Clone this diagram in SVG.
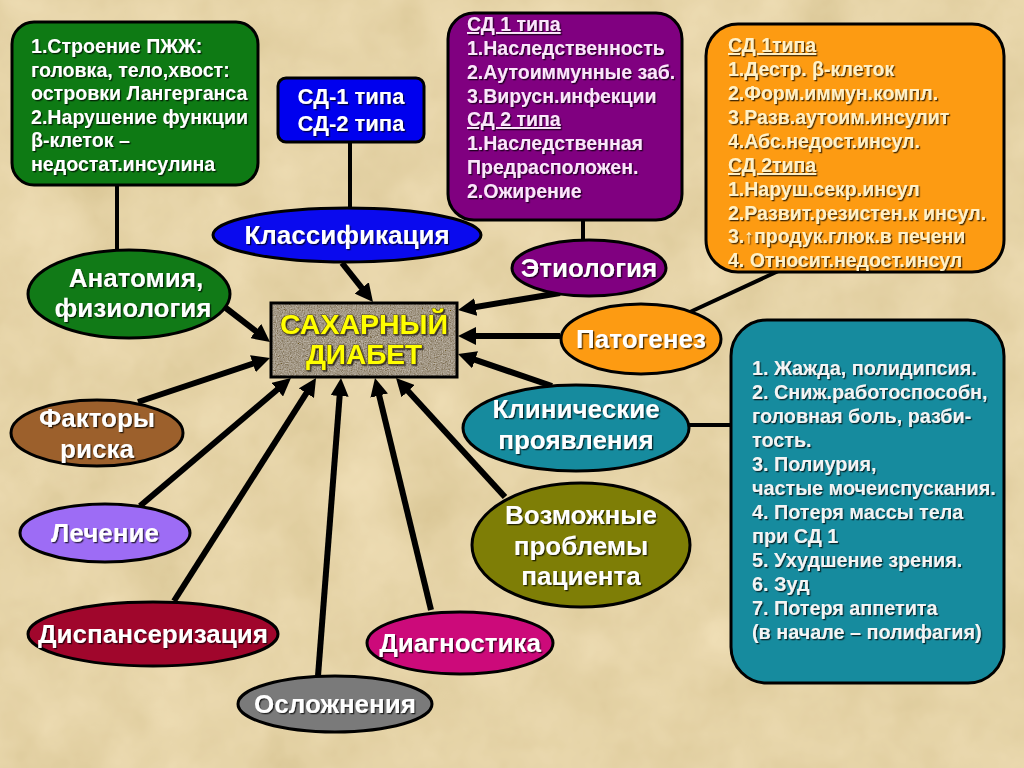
<svg xmlns="http://www.w3.org/2000/svg" width="1024" height="768" viewBox="0 0 1024 768">
<defs>
<filter id="parch" x="0" y="0" width="100%" height="100%">
<feTurbulence type="fractalNoise" baseFrequency="0.015" numOctaves="4" seed="7" result="n"/>
<feColorMatrix in="n" type="matrix" values="0.33 0.33 0.33 0 0 0.33 0.33 0.33 0 0 0.33 0.33 0.33 0 0 0 0 0 0 1" result="g"/>
<feComposite in="g" in2="SourceGraphic" operator="arithmetic" k1="0" k2="0.3" k3="1" k4="-0.15"/>
</filter>
<filter id="granite" x="0" y="0" width="100%" height="100%">
<feTurbulence type="fractalNoise" baseFrequency="0.85" numOctaves="3" seed="3" result="n"/>
<feColorMatrix in="n" type="matrix" values="0.33 0.33 0.33 0 0 0.33 0.33 0.33 0 0 0.33 0.33 0.33 0 0 0 0 0 0 1" result="g"/>
<feComposite in="g" in2="SourceGraphic" operator="arithmetic" k1="0" k2="0.9" k3="1" k4="-0.45" result="c"/>
<feComposite in="c" in2="SourceGraphic" operator="in"/>
</filter>
<filter id="sh" x="-10%" y="-20%" width="120%" height="140%">
<feDropShadow dx="1.3" dy="1.3" stdDeviation="0.6" flood-color="#000" flood-opacity="0.7"/>
</filter>
<marker id="ah" markerUnits="userSpaceOnUse" markerWidth="18" markerHeight="18" refX="6" refY="9" orient="auto">
<path d="M0,0 L18,9 L0,18 Z" fill="#000"/>
</marker>
<style>
.f{font-family:"Liberation Sans",Arial,sans-serif;font-weight:bold}
.lbl{font-size:26px;fill:#fff;text-anchor:middle}
.nd{stroke:#000;stroke-width:3}
.ar{stroke:#000;stroke-width:6;marker-end:url(#ah)}
.ln{stroke:#000;stroke-width:4;fill:none}
.u{text-decoration:underline}
</style>
</defs>
<rect x="0" y="0" width="1024" height="768" fill="#e6d4a8" filter="url(#parch)"/>

<g id="connectors">
<line class="ln" x1="117" y1="186" x2="117" y2="252"/>
<line class="ln" x1="350" y1="141" x2="350" y2="210"/>
<line class="ln" x1="583" y1="218" x2="583" y2="243"/>
<line class="ln" x1="785" y1="268" x2="690" y2="312"/>
<line class="ln" x1="688" y1="425" x2="733" y2="425"/>
<line class="ar" x1="342" y1="263" x2="365.5" y2="292.6"/>
<line class="ar" x1="222" y1="305" x2="260.5" y2="334.7"/>
<line class="ar" x1="138" y1="402" x2="258.6" y2="361.8"/>
<line class="ar" x1="560" y1="293" x2="469.8" y2="308"/>
<line class="ar" x1="560" y1="336" x2="470" y2="336"/>
<line class="ar" x1="552" y1="386" x2="469.4" y2="357.9"/>
<line class="ar" x1="140" y1="506" x2="281.8" y2="385.8"/>
<line class="ar" x1="174" y1="601" x2="309.6" y2="388.1"/>
<line class="ar" x1="318" y1="676" x2="340.1" y2="390"/>
<line class="ar" x1="431" y1="610" x2="377.8" y2="389.7"/>
<line class="ar" x1="505" y1="497" x2="404.1" y2="386.8"/>
</g>

<g id="center">
<rect x="271" y="303" width="186" height="74" fill="#a39886" filter="url(#granite)"/>
<rect x="271" y="303" width="186" height="74" fill="none" stroke="#000" stroke-width="3"/>
<g class="f" font-size="28" fill="#ffff00" text-anchor="middle" stroke="#5a4a20" stroke-width="1.2" paint-order="stroke" filter="url(#sh)">
<text x="364" y="334" textLength="168" lengthAdjust="spacingAndGlyphs">САХАРНЫЙ</text>
<text x="364" y="364">ДИАБЕТ</text>
</g>
</g>

<g id="anatomy-box">
<rect class="nd" x="12" y="22" width="246" height="163" rx="22" fill="#0e7a14"/>
<g class="f" font-size="19.6" fill="#fff" filter="url(#sh)">
<text x="31" y="53">1.Строение ПЖЖ:</text>
<text x="31" y="76.5">головка, тело,хвост:</text>
<text x="31" y="100">островки Лангерганса</text>
<text x="31" y="123.5">2.Нарушение функции</text>
<text x="31" y="147">β-клеток –</text>
<text x="31" y="170.5">недостат.инсулина</text>
</g>
</g>

<g id="class-box">
<rect class="nd" x="278" y="78" width="146" height="64" rx="8" fill="#0000ee"/>
<g class="f" font-size="22" fill="#fff" text-anchor="middle" filter="url(#sh)">
<text x="351" y="104">СД-1 типа</text>
<text x="351" y="131">СД-2 типа</text>
</g>
</g>

<g id="etiology-box">
<rect class="nd" x="448" y="13" width="234" height="207" rx="26" fill="#800080"/>
<g class="f" font-size="19.5" fill="#fbe6fb" filter="url(#sh)">
<text class="u" x="467" y="31">СД 1 типа</text>
<text x="467" y="54.5">1.Наследственность</text>
<text x="467" y="78.5">2.Аутоиммунные заб.</text>
<text x="467" y="102.5">3.Вирусн.инфекции</text>
<text class="u" x="467" y="126">СД 2 типа</text>
<text x="467" y="150">1.Наследственная</text>
<text x="467" y="174">Предрасположен.</text>
<text x="467" y="197.5">2.Ожирение</text>
</g>
</g>

<g id="pathogenesis-box">
<rect class="nd" x="706" y="24" width="298" height="248" rx="32" fill="#fd9b12"/>
<g class="f" font-size="19.5" fill="#fff1c8" filter="url(#sh)">
<text class="u" x="728" y="52">СД 1типа</text>
<text x="728" y="76">1.Дестр. β-клеток</text>
<text x="728" y="100">2.Форм.иммун.компл.</text>
<text x="728" y="124">3.Разв.аутоим.инсулит</text>
<text x="728" y="148">4.Абс.недост.инсул.</text>
<text class="u" x="728" y="172">СД 2типа</text>
<text x="728" y="196">1.Наруш.секр.инсул</text>
<text x="728" y="219.5">2.Развит.резистен.к инсул.</text>
<text x="728" y="243">3.↑продук.глюк.в печени</text>
<text x="728" y="266.5">4. Относит.недост.инсул</text>
</g>
</g>

<g id="clinic-box">
<rect class="nd" x="731" y="320" width="273" height="363" rx="36" fill="#168b9e"/>
<g class="f" font-size="19.8" fill="#f4f4f4" filter="url(#sh)">
<text x="752" y="375">1. Жажда, полидипсия.</text>
<text x="752" y="399">2. Сниж.работоспособн,</text>
<text x="752" y="423">головная боль, разби-</text>
<text x="752" y="447">тость.</text>
<text x="752" y="471">3. Полиурия,</text>
<text x="752" y="495">частые мочеиспускания.</text>
<text x="752" y="519">4. Потеря массы тела</text>
<text x="752" y="543">при СД 1</text>
<text x="752" y="567">5. Ухудшение зрения.</text>
<text x="752" y="591">6. Зуд</text>
<text x="752" y="615">7. Потеря аппетита</text>
<text x="752" y="639">(в начале – полифагия)</text>
</g>
</g>

<g id="n-classification">
<ellipse class="nd" cx="347" cy="235" rx="134" ry="27" fill="#0a0aee"/>
<text class="f lbl" x="347" y="244" filter="url(#sh)">Классификация</text>
</g>
<g id="n-anatomy">
<ellipse class="nd" cx="129" cy="294" rx="101" ry="44" fill="#117a17"/>
<text class="f lbl" x="136" y="287" filter="url(#sh)">Анатомия,</text>
<text class="f lbl" x="133" y="317" filter="url(#sh)">физиология</text>
</g>
<g id="n-etiology">
<ellipse class="nd" cx="589" cy="268" rx="77" ry="28" fill="#800080"/>
<text class="f lbl" x="589" y="277" filter="url(#sh)">Этиология</text>
</g>
<g id="n-pathogenesis">
<ellipse class="nd" cx="641" cy="339" rx="80" ry="35" fill="#fd9b12"/>
<text class="f lbl" x="641" y="348" fill="#fff6e0" filter="url(#sh)">Патогенез</text>
</g>
<g id="n-clinic">
<ellipse class="nd" cx="576" cy="428" rx="113" ry="43" fill="#168b9e"/>
<text class="f lbl" x="576" y="418" filter="url(#sh)">Клинические</text>
<text class="f lbl" x="576" y="449" filter="url(#sh)">проявления</text>
</g>
<g id="n-problems">
<ellipse class="nd" cx="581" cy="545" rx="109" ry="62" fill="#7e7e06"/>
<text class="f lbl" x="581" y="524" filter="url(#sh)">Возможные</text>
<text class="f lbl" x="581" y="555" filter="url(#sh)">проблемы</text>
<text class="f lbl" x="581" y="585" filter="url(#sh)">пациента</text>
</g>
<g id="n-risk">
<ellipse class="nd" cx="97" cy="433" rx="86" ry="33" fill="#9c602c"/>
<text class="f lbl" x="97" y="427" filter="url(#sh)">Факторы</text>
<text class="f lbl" x="97" y="458" filter="url(#sh)">риска</text>
</g>
<g id="n-treatment">
<ellipse class="nd" cx="105" cy="533" rx="85" ry="29" fill="#9d6cf5"/>
<text class="f lbl" x="105" y="542" filter="url(#sh)">Лечение</text>
</g>
<g id="n-dispensary">
<ellipse class="nd" cx="153" cy="634" rx="125" ry="32" fill="#a0062c"/>
<text class="f lbl" x="153" y="643" filter="url(#sh)">Диспансеризация</text>
</g>
<g id="n-diagnostics">
<ellipse class="nd" cx="460" cy="643" rx="93" ry="31" fill="#cc0a7a"/>
<text class="f lbl" x="460" y="652" filter="url(#sh)">Диагностика</text>
</g>
<g id="n-complications">
<ellipse class="nd" cx="335" cy="704" rx="97" ry="28" fill="#7a7a7a"/>
<text class="f lbl" x="335" y="713" filter="url(#sh)">Осложнения</text>
</g>
</svg>
